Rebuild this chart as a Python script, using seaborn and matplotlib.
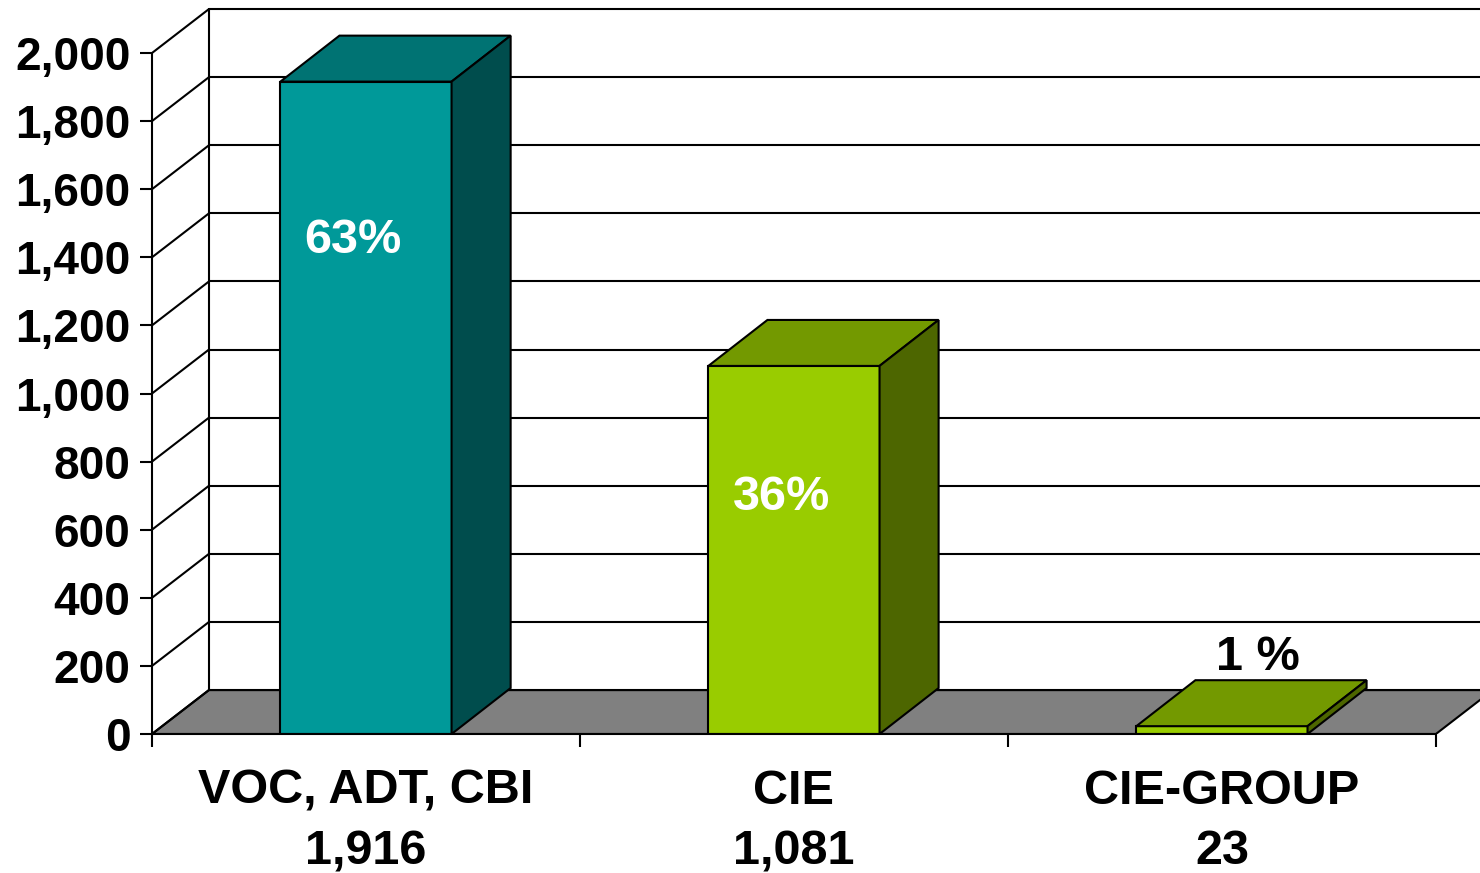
import matplotlib
matplotlib.use("Agg")
import matplotlib.pyplot as plt
from matplotlib.patches import Polygon
import seaborn as sns

# data
categories = ["VOC, ADT, CBI", "CIE", "CIE-GROUP"]
values = [1916, 1081, 23]
shares = ["63%", "36%", "1 %"]
yticks = [0, 200, 400, 600, 800, 1000, 1200, 1400, 1600, 1800, 2000]

# colours: front, top, side of each column
front_colors = ["#009999", "#99CC00", "#99CC00"]
top_colors = ["#007373", "#739900", "#739900"]
side_colors = ["#004D4D", "#4D6600", "#4D6600"]

# 3d look (depth offsets in data units)
wall_dx, wall_dy = 0.133, 129
bar_dx, bar_dy = 0.138, 135
bar_width = 0.40

# label placement (x offset from column centre, y in data units)
label_dx = [-0.03, -0.03, 0.085]
label_y = [1448, 696, 226]
label_colors = ["white", "white", "black"]

sns.set_theme(style="white")
plt.rcParams["font.family"] = ["Liberation Sans", "DejaVu Sans"]
plt.rcParams["font.weight"] = "bold"
plt.rcParams["text.color"] = "black"
plt.rcParams["xtick.color"] = "black"
plt.rcParams["ytick.color"] = "black"

fig = plt.figure(figsize=(14.8, 8.73), dpi=100)
ax = fig.add_axes([152 / 1480, 139 / 873, 1328 / 1480, 734 / 873])

xmin, xmax = -0.5, 2.603
lw = 1.5

# floor
floor = Polygon([(-0.5, 0), (2.5, 0), (2.5 + wall_dx, wall_dy), (-0.5 + wall_dx, wall_dy)],
                closed=True, facecolor="#808080", edgecolor="black", lw=lw, zorder=1)
ax.add_patch(floor)

# back wall grid lines and left wall diagonals
for v in yticks:
    ax.plot([-0.5 + wall_dx, xmax + 1], [v + wall_dy, v + wall_dy], color="black", lw=lw, zorder=1.2)
    ax.plot([-0.5, -0.5 + wall_dx], [v, v + wall_dy], color="black", lw=lw, zorder=1.2)
ax.plot([-0.5 + wall_dx, -0.5 + wall_dx], [wall_dy, 2000 + wall_dy], color="black", lw=lw, zorder=1.2)

# front faces with seaborn
sns.barplot(x=categories, y=values, hue=categories, palette=front_colors, legend=False,
            width=bar_width, edgecolor="black", linewidth=lw, saturation=1, ax=ax, zorder=3)

# top and side faces
for i, v in enumerate(values):
    x0, x1 = i - bar_width / 2, i + bar_width / 2
    top = Polygon([(x0, v), (x1, v), (x1 + bar_dx, v + bar_dy), (x0 + bar_dx, v + bar_dy)],
                  closed=True, facecolor=top_colors[i], edgecolor="black", lw=lw, zorder=3)
    side = Polygon([(x1, 0), (x1, v), (x1 + bar_dx, v + bar_dy), (x1 + bar_dx, bar_dy)],
                   closed=True, facecolor=side_colors[i], edgecolor="black", lw=lw, zorder=3)
    ax.add_patch(top)
    ax.add_patch(side)
    ax.text(i + label_dx[i], label_y[i], shares[i], ha="center", va="center",
            fontsize=35, fontweight="bold", color=label_colors[i], zorder=5)

ax.set_xlim(xmin, xmax)
ax.set_ylim(0, 734 / 0.3405)
ax.set_xlabel("")
ax.set_ylabel("")

# axes: front y axis and floor edge
for s in ["top", "right"]:
    ax.spines[s].set_visible(False)
ax.spines["left"].set_bounds(0, 2000)
ax.spines["bottom"].set_bounds(-0.5, 2.5)
for s in ["left", "bottom"]:
    ax.spines[s].set_linewidth(lw)
    ax.spines[s].set_color("black")
    ax.spines[s].set_zorder(4)

ax.set_yticks(yticks)
ax.set_yticklabels([f"{t:,}" for t in yticks])
ax.tick_params(axis="y", direction="out", length=8.5, width=lw, color="black",
               labelcolor="black", labelsize=33, pad=7, left=True)

ax.set_xticks([-0.5, 0.5, 1.5, 2.5])
ax.set_xticklabels([])
ax.set_xticks([0, 1, 2], minor=True)
ax.set_xticklabels([f"{c}\n{v:,}" for c, v in zip(categories, values)], minor=True)
ax.tick_params(axis="x", which="major", direction="out", length=9, width=lw, color="black", bottom=True)
ax.tick_params(axis="x", which="minor", length=0, labelsize=35, labelcolor="black", pad=25)
for lab in ax.get_xticklabels(minor=True) + ax.get_yticklabels():
    lab.set_fontweight("bold")
for lab in ax.get_xticklabels(minor=True):
    lab.set_linespacing(1.45)
ax.grid(False)

fig.savefig("out.png", dpi=100)
